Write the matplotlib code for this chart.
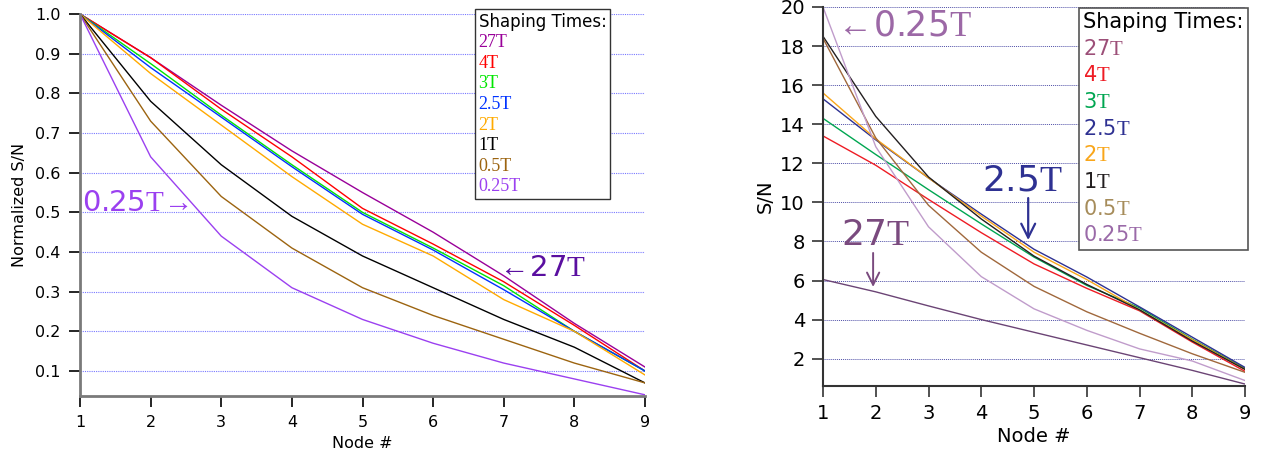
import matplotlib
matplotlib.use('Agg')
import matplotlib.pyplot as plt

plt.rcParams['mathtext.fontset'] = 'custom'
plt.rcParams['mathtext.rm'] = 'Liberation Serif'
plt.rcParams['mathtext.sf'] = 'DejaVu Sans'
plt.rcParams['mathtext.fallback'] = 'stix'

nodes = [1, 2, 3, 4, 5, 6, 7, 8, 9]
labels = ['27T', '4T', '3T', '2.5T', '2T', '1T', '0.5T', '0.25T']

# normalized S/N (left panel)
norm_27 = [1.0, 0.89, 0.77, 0.655, 0.55, 0.45, 0.34, 0.22, 0.11]
norm_4 = [1.0, 0.89, 0.76, 0.64, 0.51, 0.42, 0.325, 0.215, 0.10]
norm_3 = [1.0, 0.875, 0.745, 0.62, 0.50, 0.41, 0.315, 0.20, 0.10]
norm_25 = [1.0, 0.865, 0.74, 0.615, 0.495, 0.405, 0.305, 0.20, 0.10]
norm_2 = [1.0, 0.85, 0.72, 0.59, 0.47, 0.39, 0.28, 0.20, 0.09]
norm_1 = [1.0, 0.78, 0.62, 0.49, 0.39, 0.31, 0.23, 0.16, 0.07]
norm_05 = [1.0, 0.73, 0.54, 0.41, 0.31, 0.24, 0.18, 0.12, 0.07]
norm_025 = [1.0, 0.64, 0.44, 0.31, 0.23, 0.17, 0.12, 0.08, 0.04]

# absolute S/N (right panel)
sn_27 = [6.05, 5.42, 4.70, 4.00, 3.35, 2.70, 2.05, 1.40, 0.70]
sn_4 = [13.4, 11.9, 10.15, 8.45, 6.85, 5.6, 4.45, 2.85, 1.35]
sn_3 = [14.3, 12.45, 10.65, 8.9, 7.2, 5.75, 4.6, 3.0, 1.5]
sn_25 = [15.3, 13.2, 11.25, 9.4, 7.6, 6.18, 4.65, 3.1, 1.55]
sn_2 = [15.6, 13.25, 11.25, 9.3, 7.45, 6.05, 4.5, 2.97, 1.45]
sn_1 = [18.5, 14.4, 11.3, 9.15, 7.25, 5.8, 4.5, 2.9, 1.45]
sn_05 = [18.4, 13.3, 9.85, 7.45, 5.7, 4.4, 3.3, 2.25, 1.3]
sn_025 = [20.0, 12.85, 8.75, 6.2, 4.55, 3.45, 2.5, 1.88, 0.88]

norm_series = [norm_27, norm_4, norm_3, norm_25, norm_2, norm_1, norm_05, norm_025]
sn_series = [sn_27, sn_4, sn_3, sn_25, sn_2, sn_1, sn_05, sn_025]

left_colors = ['#990099', '#ff0000', '#00e600', '#0033ff', '#ffaa00', '#000000', '#9c6410', '#9b40f0']
right_line_colors = ['#6b4475', '#ee1c24', '#00a651', '#2e3192', '#f9a61a', '#231f20', '#a0683c', '#c09ccb']
right_text_colors = ['#9c4f78', '#ee1c24', '#00a651', '#2e3192', '#f9a61a', '#231f20', '#a68c5a', '#9a6aa8']

fig = plt.figure(figsize=(12.67, 4.58), dpi=100)
ax1 = fig.add_axes([80 / 1267, 1 - 396 / 458, 565 / 1267, 382 / 458])
ax2 = fig.add_axes([823 / 1267, 1 - 386 / 458, 422 / 1267, 379 / 458])

# ---- left panel
for y, c, lab in zip(norm_series, left_colors, labels):
    ax1.plot(nodes, y, color=c, lw=1.0, label=lab)
ax1.set_xlim(1, 9)
ax1.set_ylim(0.037, 1.0)
ax1.set_xticks(nodes)
ax1.set_yticks([0.1, 0.2, 0.3, 0.4, 0.5, 0.6, 0.7, 0.8, 0.9, 1.0])
ax1.yaxis.grid(True, color='#7878ff', ls=(0, (1, 1)), lw=0.8)
ax1.set_axisbelow(True)
for s in ['top', 'right']:
    ax1.spines[s].set_visible(False)
for s in ['left', 'bottom']:
    ax1.spines[s].set_color('#7a7a7a')
    ax1.spines[s].set_linewidth(2)
ax1.tick_params(direction='out', length=8, width=1.2, color='#000000', labelsize=11.5, pad=6)
ax1.set_xlabel('Node #', fontsize=11.5, labelpad=4)
ax1.set_ylabel('Normalized S/N', fontsize=11.5, labelpad=6)

leg1 = ax1.legend(loc='upper left', bbox_to_anchor=(475 / 1267, 1 - 9 / 458),
                  bbox_transform=fig.transFigure, borderaxespad=0,
                  handlelength=0, handletextpad=0, labelspacing=0.2,
                  fancybox=False, framealpha=1, edgecolor='#333333',
                  title='Shaping Times:', alignment='left', borderpad=0.2,
                  prop={'family': 'Liberation Serif', 'size': 13},
                  title_fontproperties={'size': 12})
leg1.get_frame().set_linewidth(1.0)
for h in leg1.legend_handles:
    h.set_visible(False)
for t, c in zip(leg1.get_texts(), left_colors):
    t.set_color(c)

ax1.text(1.03, 0.523, r'$\mathsf{0.25}\mathrm{T}\!\rightarrow$', color='#9b40f0',
         fontsize=21, ha='left', va='center')
ax1.text(6.86, 0.36, r'$\leftarrow\!\mathsf{27}\mathrm{T}$', color='#5a0fa0',
         fontsize=21, ha='left', va='center')

# ---- right panel
for y, c, lab in zip(sn_series, right_line_colors, labels):
    ax2.plot(nodes, y, color=c, lw=1.0,
             label=r'$\mathsf{%s}\mathrm{T}$' % lab[:-1])
ax2.set_xlim(1, 9)
ax2.set_ylim(0.6, 20)
ax2.set_xticks(nodes)
ax2.set_yticks([2, 4, 6, 8, 10, 12, 14, 16, 18, 20])
ax2.yaxis.grid(True, color='#5050a8', ls=(0, (1, 1)), lw=0.7)
ax2.set_axisbelow(True)
for s in ['top', 'right']:
    ax2.spines[s].set_visible(False)
for s in ['left', 'bottom']:
    ax2.spines[s].set_color('#333333')
    ax2.spines[s].set_linewidth(1.5)
ax2.tick_params(direction='out', length=8, width=1.2, color='#333333', labelsize=14, pad=5)
ax2.set_xlabel('Node #', fontsize=14, labelpad=3)
ax2.set_ylabel('S/N', fontsize=14, labelpad=4)

leg2 = ax2.legend(loc='upper left', bbox_to_anchor=(1079 / 1267, 1 - 8 / 458),
                  bbox_transform=fig.transFigure, borderaxespad=0,
                  handlelength=0, handletextpad=0, labelspacing=0.32,
                  fancybox=False, framealpha=1, edgecolor='#555555',
                  title='Shaping Times:', alignment='left', borderpad=0.2,
                  prop={'size': 15}, title_fontproperties={'size': 15})
leg2.get_frame().set_linewidth(1.2)
for h in leg2.legend_handles:
    h.set_visible(False)
for t, c in zip(leg2.get_texts(), right_text_colors):
    t.set_color(c)

ax2.text(1.15, 19.06, r'$\leftarrow\!\mathsf{0.25}\mathrm{T}$', color='#9c68a6',
         fontsize=25, ha='left', va='center')
ax2.text(4.78, 11.14, r'$\mathsf{2.5}\mathrm{T}$', color='#2e3192', fontsize=26,
         ha='center', va='center')
ax2.annotate('', xy=(4.89, 8.07), xytext=(4.89, 10.22),
             arrowprops=dict(arrowstyle='->', color='#2e3192', lw=1.6,
                             mutation_scale=25, shrinkA=0, shrinkB=0))
ax2.text(1.99, 8.33, r'$\mathsf{27}\mathrm{T}$', color='#7a4a7e', fontsize=26,
         ha='center', va='center')
ax2.annotate('', xy=(1.95, 5.67), xytext=(1.95, 7.41),
             arrowprops=dict(arrowstyle='->', color='#7a4a7e', lw=1.4,
                             mutation_scale=22, shrinkA=0, shrinkB=0))

fig.savefig('out.png', dpi=100)
